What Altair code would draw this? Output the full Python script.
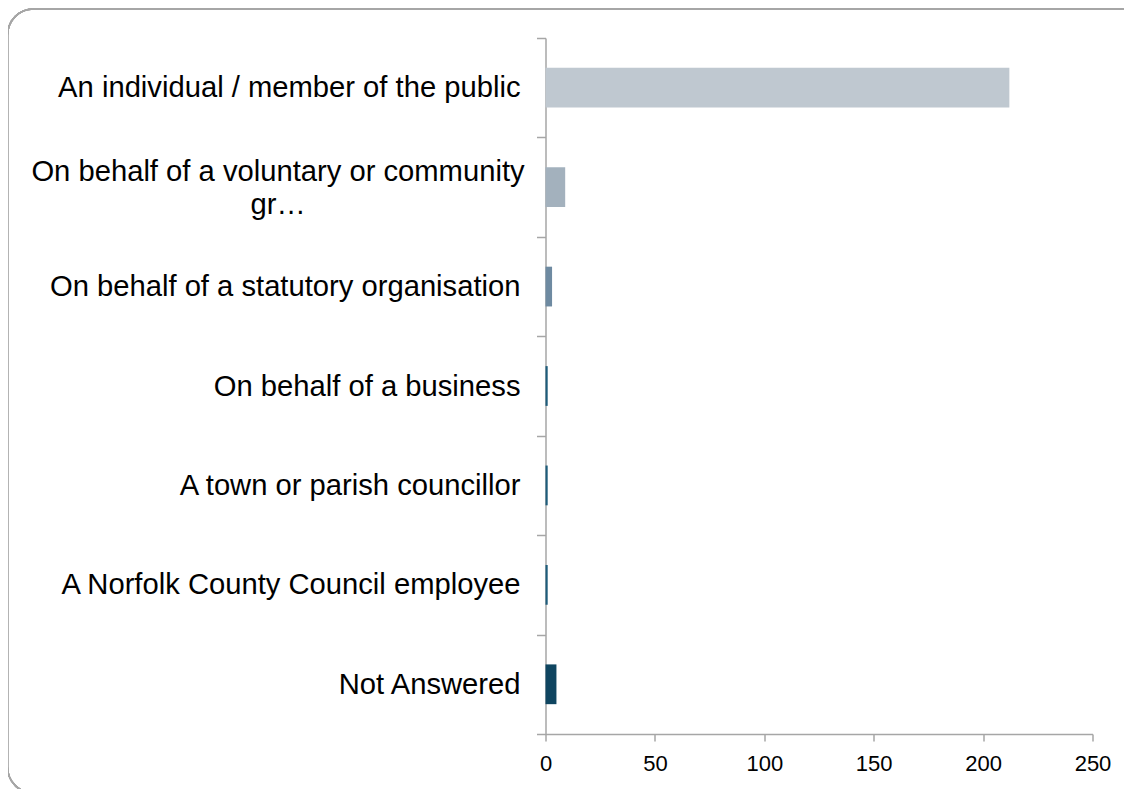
import altair as alt
import pandas as pd

categories = [
    "An individual / member of the public",
    "On behalf of a voluntary or community gr…",
    "On behalf of a statutory organisation",
    "On behalf of a business",
    "A town or parish councillor",
    "A Norfolk County Council employee",
    "Not Answered",
]
counts = [212, 9, 3, 1, 1, 1, 5]
colors = ["#bfc8d0", "#a3b1bd", "#6e8aa1", "#1e5c7b", "#1e5c7b", "#1e5c7b", "#0f4560"]
x_ticks = [0, 50, 100, 150, 200, 250]

df = pd.DataFrame({"category": categories, "count": counts})

wrapped = categories[1]
is_wrapped = f"datum.label == '{wrapped}'"
label_expr = (
    f"{is_wrapped} ? ['On behalf of a voluntary or community', 'gr…'] : datum.label"
)

bars = alt.Chart(df).mark_bar(height=alt.RelativeBandSize(0.4)).encode(
    x=alt.X(
        "count:Q",
        scale=alt.Scale(domain=[0, 250], nice=False, zero=True),
        axis=alt.Axis(
            values=x_ticks,
            title=None,
            grid=False,
            labelFlush=False,
            labelFont="Liberation Sans",
            labelFontSize=22,
            labelColor="#000000",
            labelPadding=12,
            tickSize=7,
            tickColor="#a6a6a6",
            tickWidth=1.5,
            domainColor="#a6a6a6",
            domainWidth=1.5,
        ),
    ),
    y=alt.Y(
        "category:N",
        sort=categories,
        scale=alt.Scale(paddingInner=0, paddingOuter=0),
        axis=alt.Axis(
            title=None,
            grid=False,
            tickBand="extent",
            labelExpr=label_expr,
            labelFont="Liberation Sans",
            labelFontSize=29.2,
            labelColor="#000000",
            labelLimit=0,
            labelLineHeight=33,
            labelAlign={"condition": {"test": is_wrapped, "value": "center"}, "value": "right"},
            labelPadding={"condition": {"test": is_wrapped, "value": 259}, "value": 16.5},
            labelOffset={"condition": {"test": is_wrapped, "value": -16}, "value": 0},
            tickSize=9,
            tickColor="#a6a6a6",
            tickWidth=1.5,
            domainColor="#a6a6a6",
            domainWidth=1.5,
        ),
    ),
    color=alt.Color(
        "category:N",
        scale=alt.Scale(domain=categories, range=colors),
        legend=None,
    ),
)

border = alt.Chart(df).mark_rect(
    filled=False,
    stroke="#a6a6a6",
    strokeWidth=1.5,
    cornerRadius=26,
    fill=None,
).encode(
    x=alt.value(-538),
    x2=alt.value(600),
    y=alt.value(-29),
    y2=alt.value(755),
)

chart = alt.layer(border, bars).properties(
    width=547,
    height=696,
    autosize=alt.AutoSizeParams(type="none"),
    padding={"left": 537.5, "top": 30, "right": 31.5, "bottom": 55},
).configure_view(strokeWidth=0)

chart.save("out.html", embed_options={"renderer": "svg", "actions": False})
